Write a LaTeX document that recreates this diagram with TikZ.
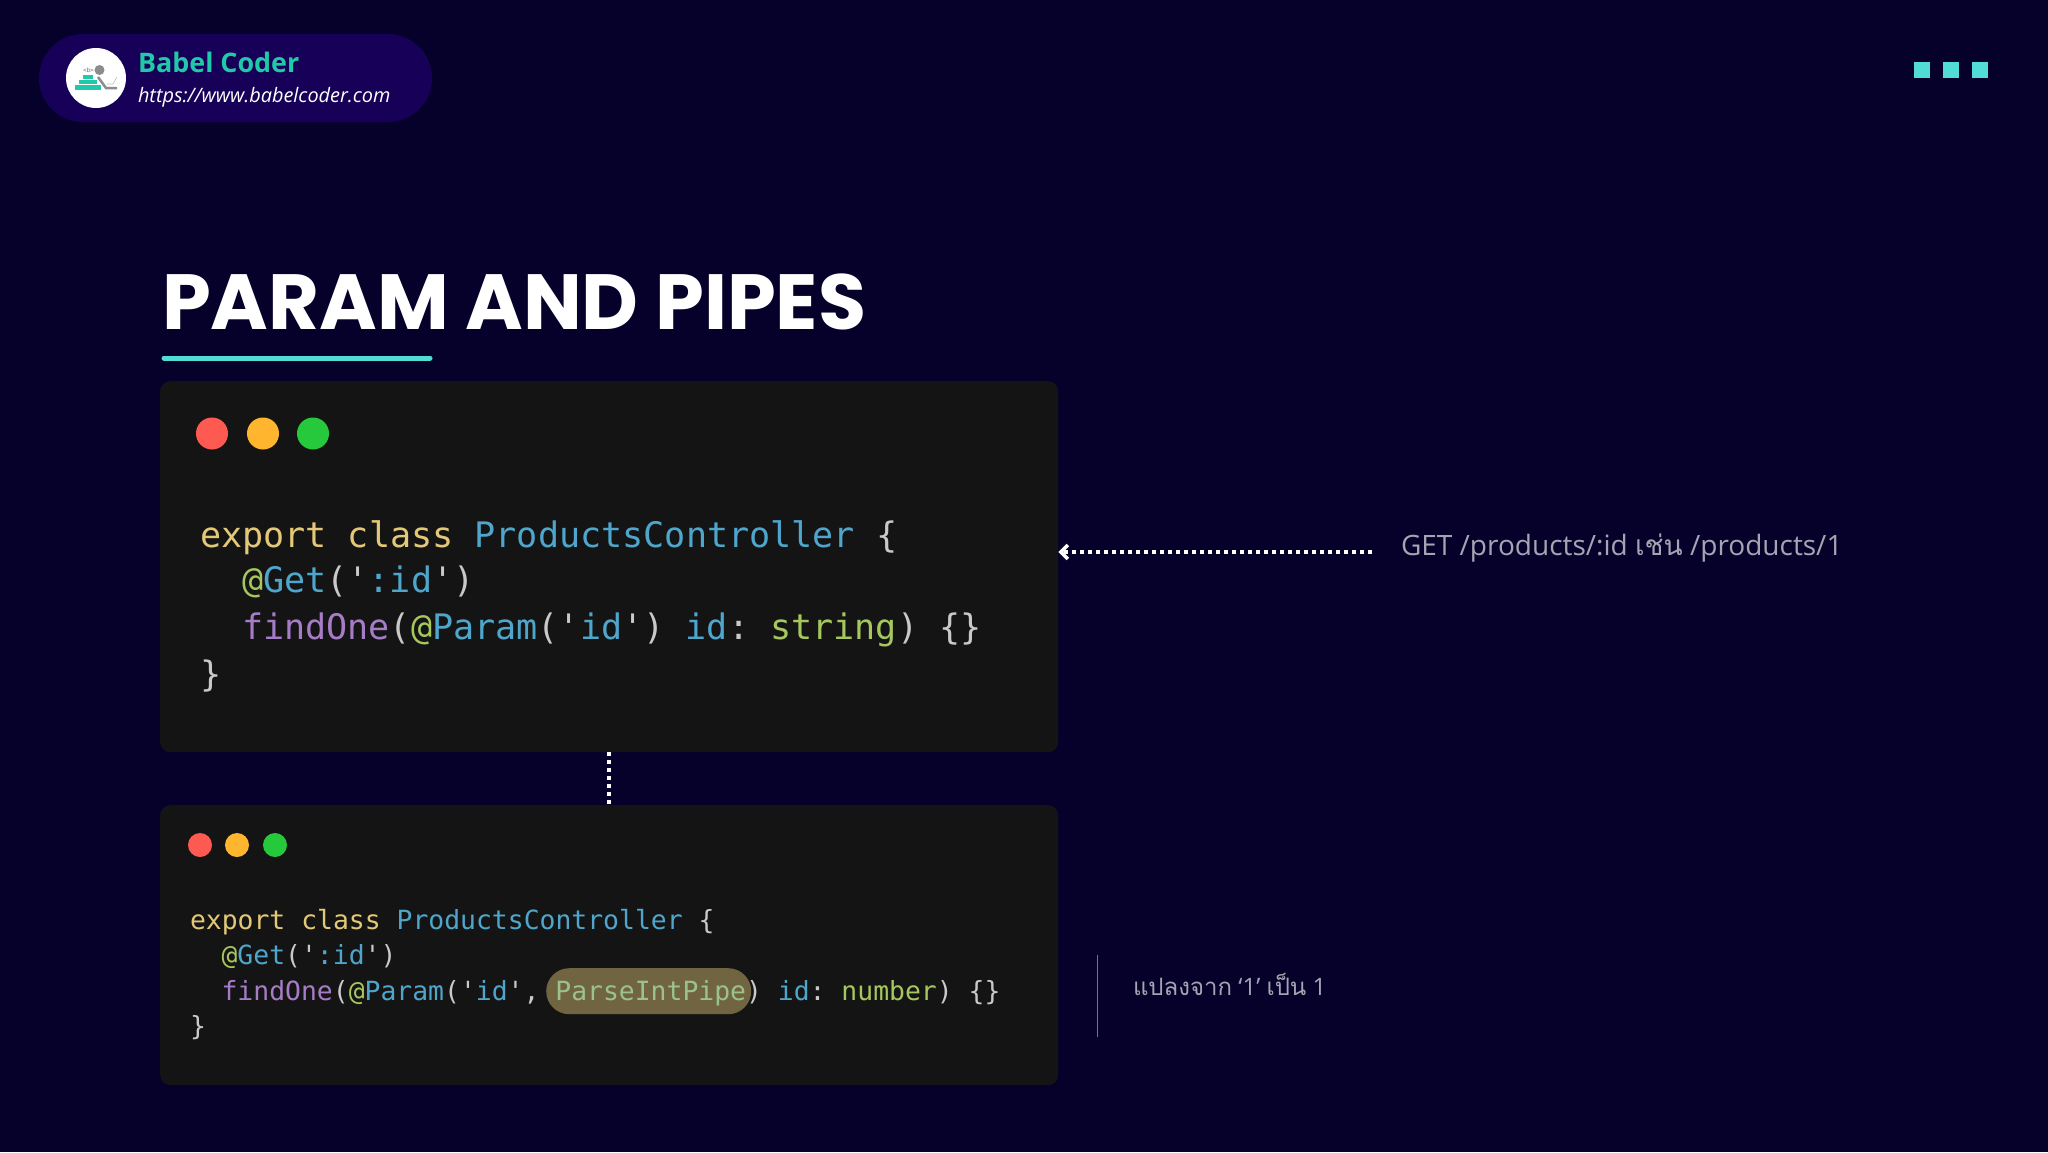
\documentclass[tikz,border=0pt]{standalone}
\usepackage{fontspec}
\usetikzlibrary{arrows.meta}
\setmainfont{Open Sans}
\newfontfamily\titlefont{Poppins}
\newfontfamily\codefont{DejaVu Sans Mono}
\newfontfamily\thaifont[Script=Thai]{Loma}
\definecolor{slidebg}{HTML}{06012B}
\definecolor{pillbg}{HTML}{170058}
\definecolor{teal}{HTML}{20C9A8}
\definecolor{aqua}{HTML}{52DCD8}
\definecolor{codebg}{HTML}{141414}
\definecolor{notegray}{HTML}{A6A4B2}
\definecolor{cYellow}{HTML}{E3C878}
\definecolor{cBlue}{HTML}{4FA6CC}
\definecolor{cGreen}{HTML}{A6C75E}
\definecolor{cPurple}{HTML}{A67CC6}
\definecolor{cPlain}{HTML}{C9C9C9}
\definecolor{cPipe}{HTML}{9CC28C}
\definecolor{btnRed}{HTML}{FF5A52}
\definecolor{btnAmber}{HTML}{FFB62E}
\definecolor{btnGreen}{HTML}{26C93C}
\def\Kw#1{\textcolor{cYellow}{#1}}
\def\Nm#1{\textcolor{cBlue}{#1}}
\def\At#1{\textcolor{cGreen}{#1}}
\def\Fn#1{\textcolor{cPurple}{#1}}
\tikzset{
	txt/.style={inner sep=0, outer sep=0, anchor=base west},
	codebox/.style={fill=codebg, rounded corners=10pt, inner sep=0, anchor=north west, minimum width=898pt},
	bigcode/.style={txt, text=cPlain, font=\codefont\frenchspacing\fontsize{35.1}{35.1}\selectfont},
	smallcode/.style={txt, text=cPlain, font=\codefont\frenchspacing\fontsize{26.4}{26.4}\selectfont},
	winbtn/.style={circle, inner sep=0, minimum size=#1},
	dotline/.style={white, line width=4pt, dash pattern=on 4pt off 4pt},
	square/.style={fill=aqua, inner sep=0, minimum size=16pt, anchor=north west},
	note/.style={txt, text=notegray}
}

\begin{document}
\begin{tikzpicture}[x=1pt, y=-1pt]
	%%%%% START %%%%%
	\fill[slidebg] (0, 0) rectangle (2048, 1152);
	\useasboundingbox (0, 0) rectangle (2048, 1152);

	% badge
	\fill[pillbg, rounded corners=44pt] (39, 34) rectangle (432, 122);
	\node[circle, fill=white, inner sep=0, minimum size=60pt] (logo) at (96, 78) {};
	\fill[teal] (83, 75) rectangle (93, 79);
	\fill[teal] (79, 80) rectangle (97, 84);
	\fill[teal] (75, 85) rectangle (101, 90);
	\fill[black!45] (99.5, 70) circle (5);
	\draw[black!45, line width=2.5pt] (98, 77) -- (106, 88) -- (117, 88);
	\draw[black!25, line width=0.6pt] (107, 84) -- (113, 84) -- (117, 77);
	\node[txt, text=black!55, font=\codefont\fontsize{6}{6}\selectfont] (logotag) at (83, 72) {<b>};
	\node[txt, text=teal, font=\bfseries\fontsize{26.9}{26.9}\selectfont] (brand) at (138, 72) {Babel Coder};
	\node[txt, text=white, font=\itshape\fontsize{19.9}{19.9}\selectfont] (site) at (138, 102) {https://www.babelcoder.com};

	\node[square] (sqa) at (1914, 62) {};
	\node[square] (sqb) at (1943, 62) {};
	\node[square] (sqc) at (1972, 62) {};

	% heading
	\node[txt, text=white, font=\titlefont\bfseries\fontsize{78.2}{78.2}\selectfont] (title) at (162, 329) {PARAM AND PIPES};
	\draw[aqua, line width=5pt, line cap=round] (164, 358) -- (430, 358);

	% upper code
	\node[codebox, minimum height=371pt] (boxa) at (160, 381) {};
	\node[winbtn=32pt, fill=btnRed] (reda) at (212, 433.5) {};
	\node[winbtn=32pt, fill=btnAmber] (ambera) at (263, 433.5) {};
	\node[winbtn=32pt, fill=btnGreen] (greena) at (313, 433.5) {};
	\node[bigcode] (linea) at (200, 547) {\Kw{export class} \Nm{ProductsController} \{};
	\node[bigcode] (lineb) at (242, 592) {\At{@}\Nm{Get}('\Nm{:id}')};
	\node[bigcode] (linec) at (242, 639) {\Fn{findOne}(\At{@}\Nm{Param}('\Nm{id}') \Nm{id}: \At{string}) \{\}};
	\node[bigcode] (lined) at (200, 686) {\}};

	% lower code
	\node[codebox, minimum height=280pt] (boxb) at (160, 805) {};
	\node[winbtn=24pt, fill=btnRed] (redb) at (200, 845) {};
	\node[winbtn=24pt, fill=btnAmber] (amberb) at (237, 845) {};
	\node[winbtn=24pt, fill=btnGreen] (greenb) at (275, 845) {};
	\node[fill=cYellow!45!codebg, rounded corners=23pt, inner sep=0, minimum width=205pt, minimum height=46pt, anchor=north west] (pipemark) at (546, 968) {};
	\node[smallcode] (linee) at (190, 929) {\Kw{export class} \Nm{ProductsController} \{};
	\node[smallcode] (linef) at (221.6, 964) {\At{@}\Nm{Get}('\Nm{:id}')};
	\node[smallcode] (lineg) at (221.6, 1000) {\Fn{findOne}(\At{@}\Nm{Param}('\Nm{id}', \textcolor{cPipe}{ParseIntPipe}) \Nm{id}: \At{number}) \{\}};
	\node[smallcode] (lineh) at (190, 1035) {\}};

	% links and notes
	\draw[dotline] (boxa.south) -- (boxb.north);
	\coordinate (getstart) at (1372, 552);
	\draw[dotline, -{Straight Barb[length=7pt, width=14pt, line width=3.5pt]}] (getstart) -- (getstart -| boxa.east);
	\node[note, font=\fontsize{28}{28}\selectfont] (getnote) at (1401, 555) {GET /products/:id {\thaifont เช่น} /products/1};
	\coordinate (ruletop) at (1097, 955);
	\coordinate (rulebot) at (1097, 1037);
	\draw[notegray!70!slidebg, line width=1pt] (ruletop) -- (rulebot);
	\node[note, font=\fontsize{24}{24}\selectfont] (castnote) at (1133, 995) {{\thaifont แปลงจาก} ‘1’ {\thaifont เป็น} 1};
	%%%%% END %%%%%
\end{tikzpicture}
\end{document}
